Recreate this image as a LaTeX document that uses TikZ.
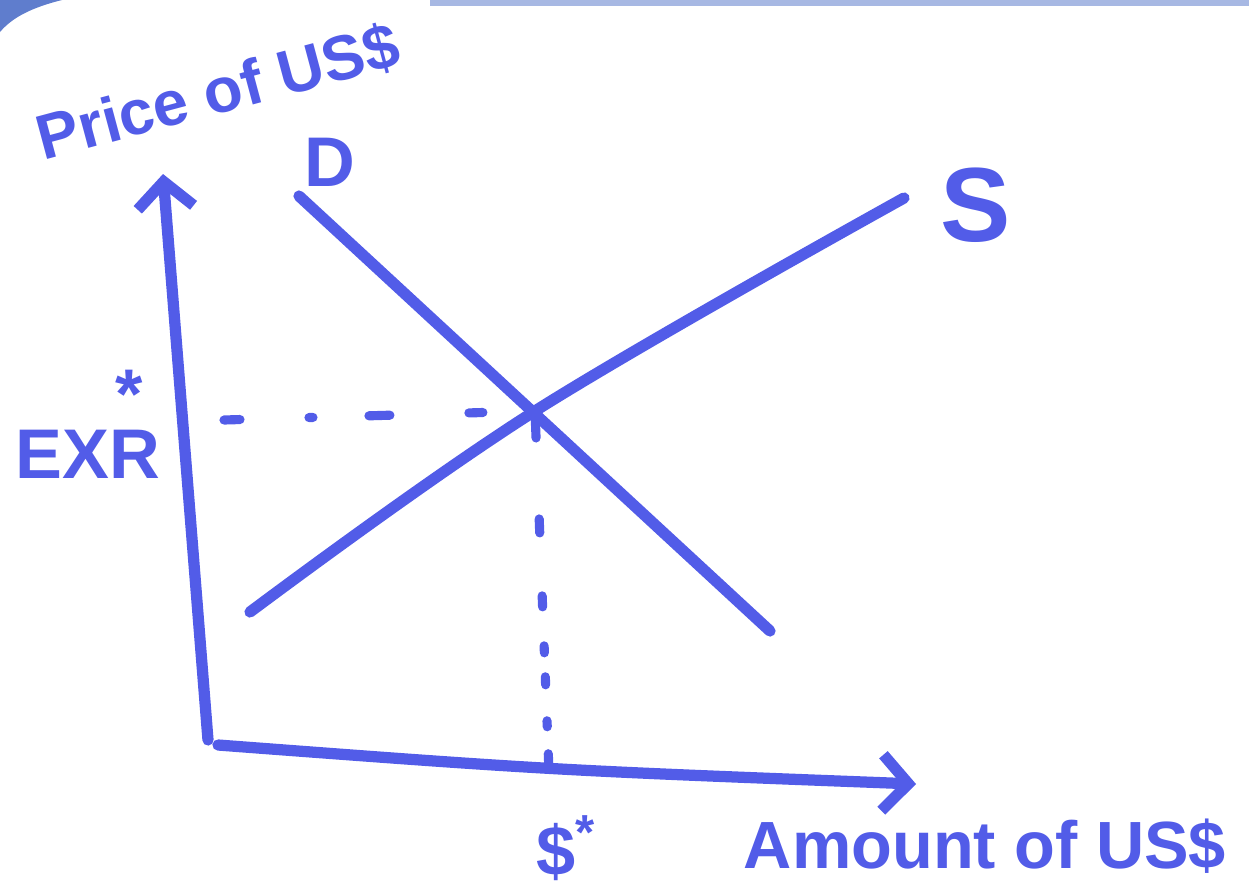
\documentclass[tikz,border=0pt]{standalone}
\usepackage{fontspec}
\setmainfont{Liberation Sans}
\usetikzlibrary{arrows.meta}
\definecolor{marker}{RGB}{82,92,232}
\definecolor{scanedge}{RGB}{95,125,205}

\begin{document}
\begin{tikzpicture}[x=0.1mm,y=-0.1mm,line cap=round,line join=round,
  pen/.style={draw=marker,line width=3.2pt},
  guide/.style={draw=marker,line width=2.6pt},
  hand/.style={text=marker,inner sep=0pt,font=\bfseries\fontsize{#1}{#1}\selectfont},
  hand/.default=18,
  >={Straight Barb[length=2.6mm,width=5.6mm]}]
\useasboundingbox (0,0) rectangle (1249,894);
% edges of the scanned sheet
\fill[scanedge] (0,0) -- (62,0) .. controls (30,8) and (12,18) .. (0,32) -- cycle;
\fill[scanedge!55] (430,0) rectangle (1249,6);
% axes
\coordinate (O) at (208,740);
\coordinate (ytop) at (163,174);
\coordinate (xorig) at (218,745);
\coordinate (xend) at (916,784);
\draw[pen,->] (O) -- (ytop);
\draw[pen,->] (xorig) .. controls (550,770) .. (xend);
% demand and supply
\coordinate (D1) at (299,196);
\coordinate (D2) at (770,631);
\coordinate (S1) at (250,612);
\coordinate (E) at (535,411);
\coordinate (S2) at (904,198);
\draw[pen] (D1) -- (D2);
\draw[pen] plot[smooth,tension=0.6] coordinates {(S1) (E) (S2)};
% equilibrium guides
\coordinate (exr0) at (224,420);
\coordinate (q0) at (549,772);
\draw[guide,dash pattern=on 1.6mm off 6.9mm on 0.4mm off 5.6mm on 2.1mm off 7.9mm on 1.4mm off 10mm] (exr0) -- (E);
\draw[guide,dash pattern=on 2.7mm off 8.1mm on 1.4mm off 6.3mm on 1.1mm off 3.9mm on 0.7mm off 2.4mm on 0.8mm off 3.6mm on 0.6mm off 2.7mm on 1.1mm off 10mm] (E) -- (q0);
% labels
\node[hand,rotate=15] (price) at (218,92) {Price of US\$};
\node[hand=20] (dlab) at (330,162) {D};
\node[hand=30] (slab) at (976,205) {S};
\node[hand=20] (exr) at (88,424) {EXR\llap{\raisebox{0.85em}{*\hspace{0.25em}}}};
\node[hand=20] (qstar) at (566,848) {\$\textsuperscript{*}};
\node[hand=19] (amount) at (985,846) {Amount of US\$};
\end{tikzpicture}
\end{document}
